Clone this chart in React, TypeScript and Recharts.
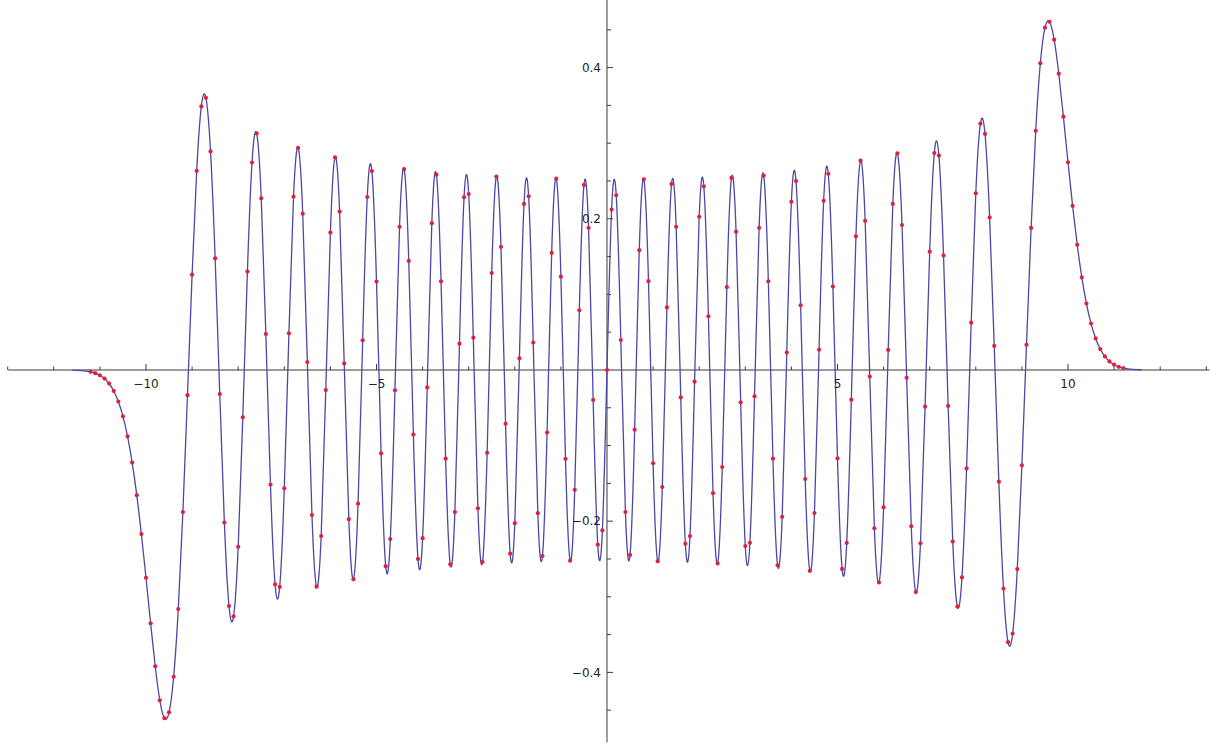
import React from 'react';
import { ComposedChart, Line, Scatter, XAxis, YAxis, ReferenceLine, ReferenceDot } from 'recharts';

// sample positions
const xValues = [
  -11.6, -11.5, -11.4, -11.3, -11.2, -11.1, -11.0, -10.9, -10.8, -10.7,
  -10.6, -10.5, -10.4, -10.3, -10.2, -10.1, -10.0, -9.9, -9.8, -9.7,
  -9.6, -9.5, -9.4, -9.3, -9.2, -9.1, -9.0, -8.9, -8.8, -8.7,
  -8.6, -8.5, -8.4, -8.3, -8.2, -8.1, -8.0, -7.9, -7.8, -7.7,
  -7.6, -7.5, -7.4, -7.3, -7.2, -7.1, -7.0, -6.9, -6.8, -6.7,
  -6.6, -6.5, -6.4, -6.3, -6.2, -6.1, -6.0, -5.9, -5.8, -5.7,
  -5.6, -5.5, -5.4, -5.3, -5.2, -5.1, -5.0, -4.9, -4.8, -4.7,
  -4.6, -4.5, -4.4, -4.3, -4.2, -4.1, -4.0, -3.9, -3.8, -3.7,
  -3.6, -3.5, -3.4, -3.3, -3.2, -3.1, -3.0, -2.9, -2.8, -2.7,
  -2.6, -2.5, -2.4, -2.3, -2.2, -2.1, -2.0, -1.9, -1.8, -1.7,
  -1.6, -1.5, -1.4, -1.3, -1.2, -1.1, -1.0, -0.9, -0.8, -0.7,
  -0.6, -0.5, -0.4, -0.3, -0.2, -0.1,
  0,
  0.1, 0.2, 0.3, 0.4, 0.5, 0.6, 0.7, 0.8, 0.9, 1.0,
  1.1, 1.2, 1.3, 1.4, 1.5, 1.6, 1.7, 1.8, 1.9, 2.0,
  2.1, 2.2, 2.3, 2.4, 2.5, 2.6, 2.7, 2.8, 2.9, 3.0,
  3.1, 3.2, 3.3, 3.4, 3.5, 3.6, 3.7, 3.8, 3.9, 4.0,
  4.1, 4.2, 4.3, 4.4, 4.5, 4.6, 4.7, 4.8, 4.9, 5.0,
  5.1, 5.2, 5.3, 5.4, 5.5, 5.6, 5.7, 5.8, 5.9, 6.0,
  6.1, 6.2, 6.3, 6.4, 6.5, 6.6, 6.7, 6.8, 6.9, 7.0,
  7.1, 7.2, 7.3, 7.4, 7.5, 7.6, 7.7, 7.8, 7.9, 8.0,
  8.1, 8.2, 8.3, 8.4, 8.5, 8.6, 8.7, 8.8, 8.9, 9.0,
  9.1, 9.2, 9.3, 9.4, 9.5, 9.6, 9.7, 9.8, 9.9, 10.0,
  10.1, 10.2, 10.3, 10.4, 10.5, 10.6, 10.7, 10.8, 10.9, 11.0,
  11.1, 11.2, 11.3, 11.4, 11.5, 11.6,
];

// wavefunction values read at those positions
const psiValues = [
  -0.0003, -0.0005, -0.0008, -0.0015, -0.0025, -0.0042, -0.0070, -0.0113, -0.0179, -0.0277,
  -0.0417, -0.0614, -0.0879, -0.1225, -0.1656, -0.2170, -0.2748, -0.3351, -0.3919, -0.4369,
  -0.4606, -0.4528, -0.4058, -0.3163, -0.1879, -0.0333, 0.1261, 0.2633, 0.3486, 0.3600,
  0.2891, 0.1477, -0.0318, -0.2018, -0.3122, -0.3258, -0.2338, -0.0626, 0.1302, 0.2744,
  0.3130, 0.2270, 0.0476, -0.1515, -0.2836, -0.2869, -0.1565, 0.0485, 0.2292, 0.2938,
  0.2067, 0.0104, -0.1918, -0.2866, -0.2197, -0.0266, 0.1817, 0.2811, 0.2095, 0.0087,
  -0.1973, -0.2768, -0.1768, 0.0393, 0.2288, 0.2631, 0.1169, -0.1103, -0.2595, -0.2237,
  -0.0268, 0.1893, 0.2657, 0.1442, -0.0855, -0.2499, -0.2225, -0.0231, 0.1942, 0.2583,
  0.1173, -0.1173, -0.2571, -0.1880, 0.0348, 0.2286, 0.2328, 0.0428, -0.1829, -0.2540,
  -0.1095, 0.1283, 0.2559, 0.1629, -0.0711, -0.2430, -0.2026, 0.0154, 0.2197, 0.2298,
  0.0363, -0.1894, -0.2461, -0.0827, 0.1548, 0.2531, 0.1234, -0.1175, -0.2522, -0.1585,
  0.0789, 0.2446, 0.1880, -0.0396, -0.2311, -0.2122,
  0,
  0.2122, 0.2311, 0.0396, -0.1880, -0.2446, -0.0789, 0.1585, 0.2522, 0.1175, -0.1234,
  -0.2531, -0.1548, 0.0827, 0.2461, 0.1894, -0.0363, -0.2298, -0.2197, -0.0154, 0.2026,
  0.2430, 0.0711, -0.1629, -0.2559, -0.1283, 0.1095, 0.2540, 0.1829, -0.0428, -0.2328,
  -0.2286, -0.0348, 0.1880, 0.2571, 0.1173, -0.1173, -0.2583, -0.1942, 0.0231, 0.2225,
  0.2499, 0.0855, -0.1442, -0.2657, -0.1893, 0.0268, 0.2237, 0.2595, 0.1103, -0.1169,
  -0.2631, -0.2288, -0.0393, 0.1768, 0.2768, 0.1973, -0.0087, -0.2095, -0.2811, -0.1817,
  0.0266, 0.2197, 0.2866, 0.1918, -0.0104, -0.2067, -0.2938, -0.2292, -0.0485, 0.1565,
  0.2869, 0.2836, 0.1515, -0.0476, -0.2270, -0.3130, -0.2744, -0.1302, 0.0626, 0.2338,
  0.3258, 0.3122, 0.2018, 0.0318, -0.1477, -0.2891, -0.3600, -0.3486, -0.2633, -0.1261,
  0.0333, 0.1879, 0.3163, 0.4058, 0.4528, 0.4606, 0.4369, 0.3919, 0.3351, 0.2748,
  0.2170, 0.1656, 0.1225, 0.0879, 0.0614, 0.0417, 0.0277, 0.0179, 0.0113, 0.0070,
  0.0042, 0.0025, 0.0015, 0.0008, 0.0005, 0.0003,
];

const dotLimit = 11.2;

const xMajorTicks = [-10, -5, 5, 10];
const xMajorLabels = ['\u221210', '\u22125', '5', '10'];
const xMinorTicks = [-13, -12, -11, -9, -8, -7, -6, -4, -3, -2, -1, 1, 2, 3, 4, 6, 7, 8, 9, 11, 12, 13];
const yMajorTicks = [-0.4, -0.2, 0.2, 0.4];
const yMajorLabels = ['\u22120.4', '\u22120.2', '0.2', '0.4'];
const yMinorTicks = [-0.45, -0.35, -0.3, -0.25, -0.15, -0.1, -0.05, 0.05, 0.1, 0.15, 0.25, 0.3, 0.35, 0.45];

const xDomain: [number, number] = [-13.167, 13.254];
const yDomain: [number, number] = [-0.4987, 0.4894];
const xAxisExtent: [number, number] = [-12.99, 13.07];
const yAxisExtent: [number, number] = [-0.4925, 0.4894];

const lineData = xValues.map((x, i) => ({ x, y: psiValues[i] }));
const dotData = lineData.filter((d) => Math.abs(d.x) <= dotLimit + 1e-9);

const AXIS = '#3a3a3a';
const LABEL_FONT = { fill: '#222', fontSize: 12, fontFamily: 'DejaVu Sans, Verdana, sans-serif' };

export default function App() {
  return (
    <div style={{ position: 'absolute', left: 0, top: 0, width: 1218, height: 747, background: '#fff' }}>
      <ComposedChart width={1218} height={747} data={lineData} margin={{ top: 0, right: 0, bottom: 0, left: 0 }}>
        <XAxis type="number" dataKey="x" domain={xDomain} allowDataOverflow hide />
        <YAxis type="number" dataKey="y" domain={yDomain} allowDataOverflow hide />

        <ReferenceLine segment={[{ x: xAxisExtent[0], y: 0 }, { x: xAxisExtent[1], y: 0 }]} stroke={AXIS} strokeWidth={1} />
        <ReferenceLine segment={[{ x: 0, y: yAxisExtent[0] }, { x: 0, y: yAxisExtent[1] }]} stroke={AXIS} strokeWidth={1} />

        {xMinorTicks.map((t) => (
          <ReferenceLine key={'xm' + t} segment={[{ x: t, y: 0 }, { x: t, y: 0.0046 }]} stroke={AXIS} strokeWidth={1} />
        ))}
        {xMajorTicks.map((t) => (
          <ReferenceLine key={'xM' + t} segment={[{ x: t, y: 0 }, { x: t, y: 0.0079 }]} stroke={AXIS} strokeWidth={1} />
        ))}
        {yMinorTicks.map((t) => (
          <ReferenceLine key={'ym' + t} segment={[{ x: 0, y: t }, { x: 0.087, y: t }]} stroke={AXIS} strokeWidth={1} />
        ))}
        {yMajorTicks.map((t) => (
          <ReferenceLine key={'yM' + t} segment={[{ x: 0, y: t }, { x: 0.13, y: t }]} stroke={AXIS} strokeWidth={1} />
        ))}

        {xMajorTicks.map((t, i) => (
          <ReferenceDot
            key={'xl' + t}
            x={t}
            y={0}
            r={0}
            fill="none"
            stroke="none"
            label={{ value: xMajorLabels[i], position: 'bottom', offset: 9, ...LABEL_FONT }}
          />
        ))}
        {yMajorTicks.map((t, i) => (
          <ReferenceDot
            key={'yl' + t}
            x={0}
            y={t}
            r={0}
            fill="none"
            stroke="none"
            label={{ value: yMajorLabels[i], position: 'left', offset: 6, ...LABEL_FONT }}
          />
        ))}

        <Line
          dataKey="y"
          type="natural"
          dot={false}
          activeDot={false}
          stroke="#4a48a8"
          strokeWidth={1.3}
          isAnimationActive={false}
        />
        <Scatter
          data={dotData}
          dataKey="y"
          isAnimationActive={false}
          shape={(props: any) => <circle cx={props.cx} cy={props.cy} r={2.1} fill="#e0203f" />}
        />
      </ComposedChart>
    </div>
  );
}
